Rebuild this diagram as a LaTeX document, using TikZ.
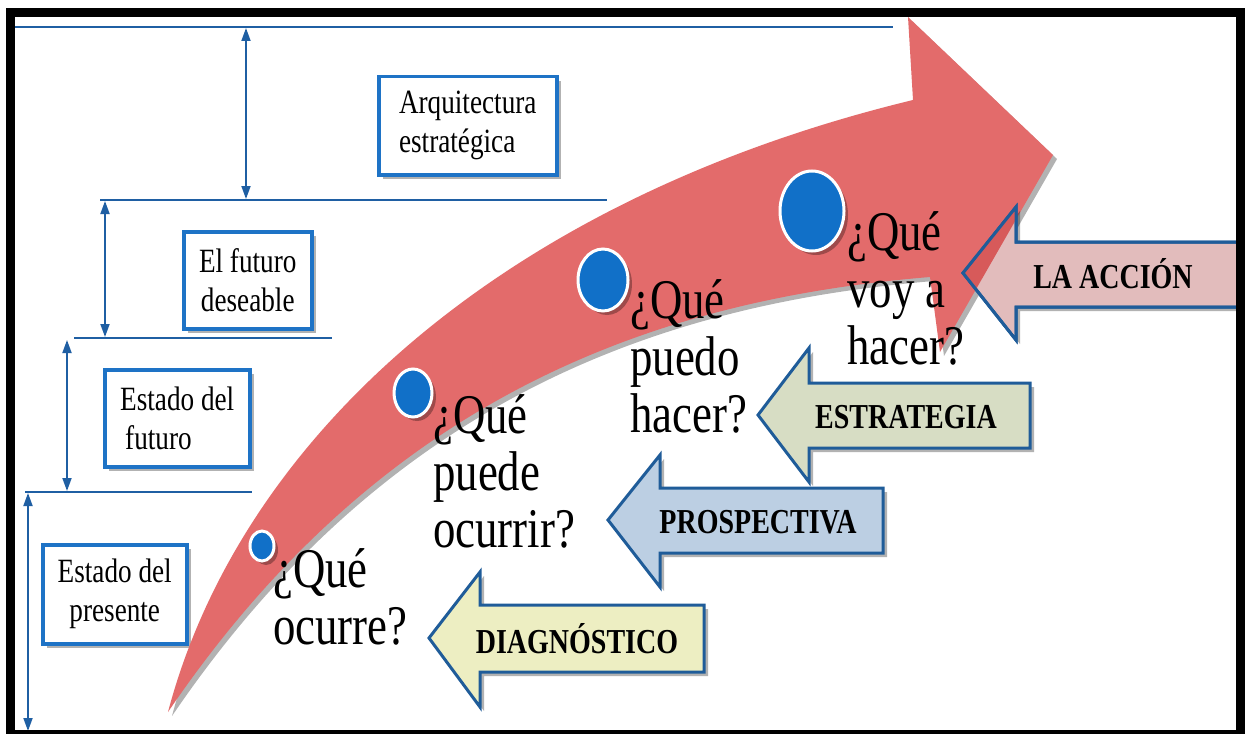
\documentclass[tikz,border=0pt]{standalone}
\usepackage{fontspec}
\setmainfont{Liberation Serif}[FakeStretch=0.8]
\usetikzlibrary{arrows.meta,shadows,shapes.geometric}
\definecolor{linec}{HTML}{1F5FA3}
\definecolor{boxc}{HTML}{1E73C6}
\definecolor{arrowc}{HTML}{1F5C99}
\definecolor{redc}{HTML}{E36B6B}
\definecolor{dotc}{HTML}{1170C8}
\definecolor{estrc}{HTML}{D7DDC4}
\definecolor{prosc}{HTML}{BCCFE3}
\definecolor{diagc}{HTML}{EDEEC2}
\definecolor{accc}{HTML}{E2BCBC}
\definecolor{overc}{HTML}{D75A5A}
\begin{document}
\begin{tikzpicture}[x=1pt,y=-1pt,
  shd/.style={drop shadow={shadow xshift=4pt,shadow yshift=-4pt,opacity=0.3,fill=black}},
  hline/.style={draw=linec,line width=2.2pt},
  dimarrow/.style={draw=linec,line width=1.8pt,{Triangle[width=9pt,length=13pt]}-{Triangle[width=9pt,length=13pt]}},
  labelbox/.style={draw=boxc,line width=3.5pt,fill=white,inner sep=0pt,anchor=north west,shd,
    font=\fontsize{34}{39}\selectfont},
  dot/.style={ellipse,fill=dotc,draw=white,line width=3pt,inner sep=0pt,shd},
  qtext/.style={anchor=north west,inner sep=0pt,align=left,font=\fontsize{56}{57}\selectfont},
  larrow/.style={draw=arrowc,line width=3pt,line join=miter,shd},
  lab/.style={inner sep=0pt,font=\bfseries\fontsize{35}{40}\selectfont}
]
\useasboundingbox (0,0) rectangle (1249,733);
\fill[white] (0,0) rectangle (1249,733);

% horizontal level lines
\coordinate (l1a) at (15,27);  \coordinate (l1b) at (893,27);
\coordinate (l2a) at (100,200); \coordinate (l2b) at (607,200);
\coordinate (l3a) at (74,338); \coordinate (l3b) at (332,338);
\coordinate (l4a) at (25,492); \coordinate (l4b) at (252,492);
\draw[hline] (l1a) -- (l1b);
\draw[hline] (l2a) -- (l2b);
\draw[hline] (l3a) -- (l3b);
\draw[hline] (l4a) -- (l4b);

% dimension arrows
\coordinate (d1a) at (246,28);  \coordinate (d1b) at (246,199);
\coordinate (d2a) at (105,201); \coordinate (d2b) at (105,337);
\coordinate (d3a) at (67,340);  \coordinate (d3b) at (67,491);
\coordinate (d4a) at (28,493);  \coordinate (d4b) at (28,731);
\draw[dimarrow] (d1a) -- (d1b);
\draw[dimarrow] (d2a) -- (d2b);
\draw[dimarrow] (d3a) -- (d3b);
\draw[dimarrow] (d4a) -- (d4b);

% boxes
\node[labelbox,minimum width=178pt,minimum height=98pt,align=left] (b1) at (377,75) {Arquitectura\\estratégica};
\node[labelbox,minimum width=128pt,minimum height=97pt,align=center] (b2) at (182,230) {El futuro\\deseable};
\node[labelbox,minimum width=145pt,minimum height=97pt,align=left] (b3) at (103,368) {Estado del\\\hspace{5pt}futuro};
\node[labelbox,minimum width=144pt,minimum height=99pt,align=center] (b4) at (41,543) {Estado del\\presente};

% big red arrow
\def\redpath{(168,712) .. controls (240,440) and (500,200) .. (913,100)
  -- (908,17) -- (1053,155) -- (940,352) -- (930,277)
  .. controls (650,300) and (380,400) .. (168,712) -- cycle}
\fill[redc,shd] \redpath;

% dots
\node[dot,minimum width=24pt,minimum height=30pt] (c1) at (262,546) {};
\node[dot,minimum width=38pt,minimum height=48pt] (c2) at (413,393) {};
\node[dot,minimum width=50pt,minimum height=62pt] (c3) at (603,280) {};
\node[dot,minimum width=64pt,minimum height=80pt] (c4) at (812,211) {};

% questions
\node[qtext] (q1) at (273,548) {¿Qué\\ocurre?};
\node[qtext] (q2) at (433,394) {¿Qué\\puede\\ocurrir?};
\node[qtext] (q3) at (630,279) {¿Qué\\puedo\\hacer?};
\node[qtext] (q4) at (847,211) {¿Qué\\voy a\\hacer?};

% left arrows
\def\accpath{(963,273) -- (1016,207) -- (1016,242) -- (1240,242) -- (1240,307) -- (1016,307) -- (1016,340) -- cycle}
\path[larrow,fill=accc] \accpath;
\begin{scope}
  \clip \accpath;
  \fill[overc] \redpath;
\end{scope}
\draw[draw=arrowc,line width=3pt,line join=miter] \accpath;
\path[larrow,fill=estrc] (758,415) -- (809,348) -- (809,383) -- (1030,383) -- (1030,448) -- (809,448) -- (809,482) -- cycle;
\path[larrow,fill=prosc] (608,520) -- (660,455) -- (660,488) -- (883,488) -- (883,553) -- (660,553) -- (660,587) -- cycle;
\path[larrow,fill=diagc] (429,638) -- (480,572) -- (480,605) -- (704,605) -- (704,672) -- (480,672) -- (480,707) -- cycle;
\node[lab] (accion) at (1113,274) {LA ACCIÓN};
\node[lab] (estr) at (906,417) {ESTRATEGIA};
\node[lab] (pros) at (758,522) {PROSPECTIVA};
\node[lab] (diag) at (577,639) {DIAGNÓSTICO};

% frame
\draw[line width=9pt] (10.5,12.5) rectangle (1240,734);
\end{tikzpicture}
\end{document}
